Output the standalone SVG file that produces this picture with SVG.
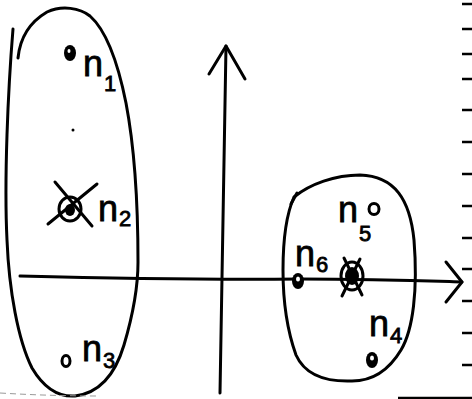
<svg xmlns="http://www.w3.org/2000/svg" width="472" height="399" viewBox="0 0 472 399">
<style>
.ink{fill:none;stroke:#000;stroke-width:3;stroke-linecap:round;stroke-linejoin:round}
.dot{fill:#000}
.hole{fill:#fff}
.lbl{font-family:"Liberation Sans",Arial,sans-serif;font-size:36px;fill:#000;stroke:#000;stroke-width:0.8}
.sub{font-size:22px}
.tick{stroke:#000;stroke-width:2.5}
</style>
<rect width="472" height="399" fill="#fff"/>

<g id="connectors">
  <path class="ink" d="M20,276 C100,278 200,280 300,279 C380,279 430,281 462,282"/>
  <path class="ink" d="M446,262 L462,282 L446,302"/>
  <path class="ink" d="M220,393 L226,46"/>
  <path class="ink" d="M209,74 L226,46 L245,79"/>
</g>

<g id="cluster-left">
  <path class="ink" d="M13,29 C8,90 4,180 7,240 C9,290 18,340 32,368 C45,390 60,397 75,396 C100,393 115,375 124,345 C132,318 138,292 138,262 C138,200 134,145 126,103 C119,68 108,32 90,16 C80,8 62,5 47,12 C30,22 20,38 18,58"/>
</g>

<g id="cluster-right">
  <path class="ink" d="M294,197 C310,184 335,175 360,175 C395,176 410,200 414,240 C418,290 413,330 401,350 C389,370 372,381 352,381 C325,382 305,375 296,355 C287,330 283,300 283,270 C283,240 286,215 294,197"/>
  <path class="ink" d="M291,204 L297,193"/>
</g>

<g id="n1">
  <ellipse class="dot" cx="70" cy="53" rx="6" ry="8"/>
  <ellipse class="hole" cx="69" cy="51" rx="1.5" ry="2"/>
  <text class="lbl" x="83" y="76">n<tspan class="sub" x="104" y="91">1</tspan></text>
</g>

<g id="mark">
  <circle class="dot" cx="73" cy="130" r="1.5"/>
</g>

<g id="n2">
  <ellipse class="ink" cx="70" cy="209" rx="11" ry="12"/>
  <ellipse class="dot" cx="70" cy="210" rx="5" ry="6"/>
  <path class="ink" d="M55,182 L92,226 M97,184 L48,224"/>
  <text class="lbl" x="98" y="221">n<tspan class="sub" x="119" y="226">2</tspan></text>
</g>

<g id="n3">
  <ellipse class="ink" cx="66" cy="361" rx="4" ry="5.5"/>
  <text class="lbl" x="82" y="361">n<tspan class="sub" x="103" y="368">3</tspan></text>
</g>

<g id="n5">
  <ellipse class="ink" cx="374" cy="209" rx="5" ry="5.5"/>
  <text class="lbl" x="338" y="222">n<tspan class="sub" x="359" y="241">5</tspan></text>
</g>

<g id="n6">
  <ellipse class="dot" cx="298" cy="281" rx="6" ry="8"/>
  <ellipse class="hole" cx="298" cy="279" rx="2" ry="2.5"/>
  <text class="lbl" x="295" y="266">n<tspan class="sub" x="316" y="272">6</tspan></text>
</g>

<g id="center">
  <ellipse class="ink" cx="352" cy="276" rx="11" ry="14"/>
  <ellipse class="dot" cx="352" cy="276" rx="7" ry="9"/>
  <path class="ink" d="M344,258 L362,295 M360,259 L342,296"/>
</g>

<g id="n4">
  <ellipse class="dot" cx="372" cy="360" rx="6" ry="8"/>
  <ellipse class="hole" cx="372" cy="358" rx="2" ry="2.5"/>
  <text class="lbl" x="369" y="336">n<tspan class="sub" x="390" y="343">4</tspan></text>
</g>

<g id="margin">
  <path class="tick" d="M462,4H472M462,29H472M462,54H472M462,79H472M462,110H472M462,142H472M462,174H472M462,206H472M462,238H472M462,269H472M462,301H472M462,333H472M462,365H472"/>
  <path class="tick" d="M398,398H472"/>
  <path d="M0,393 Q50,396 100,396" fill="none" stroke="#999" stroke-width="1" stroke-dasharray="6 4"/>
</g>
</svg>
